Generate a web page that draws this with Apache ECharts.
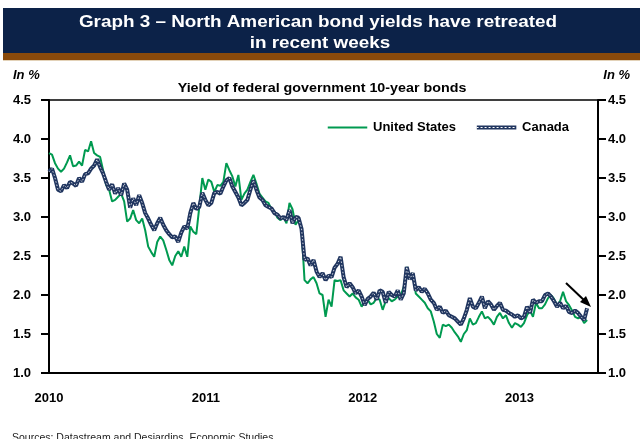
<!DOCTYPE html>
<html><head><meta charset="utf-8">
<script src="https://cdn.jsdelivr.net/npm/echarts@6/dist/echarts.min.js"></script>
<style>html,body{margin:0;padding:0;background:#fff;overflow:hidden}#c{width:640px;height:439px}</style>
</head><body><div id="c"></div>
<script>
// Weekly observations starting on the first week of 2010 (x = decimal year)
const firstYear = 2010;
const daysPerWeek = 7;
const yearLabels = [2010, 2011, 2012, 2013];
const xMin = 2010, xMax = 2013.5;
const yMin = 1.0, yMax = 4.5, yStep = 0.5;

const usYield = [
3.82,3.80,3.69,3.62,3.58,3.62,3.70,3.79,3.65,3.66,
3.71,3.66,3.86,3.84,3.97,3.82,3.79,3.77,3.60,3.41,
3.35,3.20,3.22,3.26,3.30,3.20,2.94,2.98,3.09,2.96,
2.92,2.98,2.83,2.62,2.55,2.49,2.68,2.75,2.70,2.58,
2.45,2.38,2.50,2.56,2.49,2.62,2.49,2.88,2.81,2.78,
3.13,3.50,3.35,3.48,3.45,3.32,3.41,3.40,3.45,3.69,
3.60,3.52,3.39,3.54,3.22,3.30,3.35,3.45,3.54,3.43,
3.30,3.25,3.20,3.18,3.10,3.07,2.99,2.96,3.00,2.92,
3.18,3.10,2.90,2.96,2.85,2.19,2.15,2.20,2.23,2.15,
2.02,2.00,1.72,1.94,1.85,2.19,2.18,2.19,2.06,2.02,
1.98,2.02,1.97,1.94,1.85,1.92,1.94,1.88,1.90,1.96,
1.94,1.81,1.92,1.96,1.92,1.94,1.98,2.00,2.10,2.36,
2.20,2.28,2.02,1.98,1.94,1.90,1.83,1.79,1.66,1.50,
1.45,1.62,1.60,1.62,1.58,1.52,1.47,1.40,1.50,1.55,
1.70,1.62,1.64,1.72,1.79,1.70,1.72,1.68,1.62,1.72,
1.77,1.70,1.74,1.64,1.58,1.64,1.62,1.59,1.64,1.74,
1.80,1.72,1.90,1.83,1.83,1.88,1.96,2.00,1.95,1.87,
1.92,2.04,1.92,1.87,1.80,1.72,1.70,1.72,1.64,1.68
];

const canadaYield = [
3.58,3.62,3.50,3.35,3.33,3.41,3.37,3.45,3.43,3.40,
3.50,3.45,3.55,3.56,3.62,3.66,3.74,3.64,3.56,3.45,
3.35,3.42,3.30,3.37,3.28,3.43,3.35,3.12,3.24,3.15,
3.28,3.18,3.05,2.98,2.90,2.83,2.92,2.99,2.90,2.83,
2.78,2.74,2.75,2.68,2.80,2.88,2.85,3.05,3.18,3.10,
3.13,3.31,3.22,3.15,3.18,3.31,3.32,3.30,3.39,3.47,
3.50,3.39,3.32,3.25,3.15,3.18,3.22,3.35,3.47,3.35,
3.25,3.22,3.15,3.13,3.11,3.05,3.03,2.98,3.00,2.96,
3.09,2.92,3.00,2.99,2.85,2.45,2.47,2.38,2.45,2.30,
2.23,2.28,2.19,2.25,2.23,2.35,2.40,2.49,2.23,2.10,
2.15,2.10,2.02,2.06,1.98,1.87,1.95,1.98,2.03,1.94,
2.06,2.04,1.90,2.04,2.00,1.98,2.06,1.94,2.02,2.36,
2.20,2.28,2.06,2.10,2.04,2.08,2.02,1.94,1.90,1.81,
1.85,1.77,1.80,1.74,1.72,1.70,1.66,1.62,1.70,1.81,
1.96,1.85,1.83,1.90,1.98,1.83,1.92,1.88,1.81,1.86,
1.90,1.81,1.80,1.77,1.75,1.72,1.74,1.70,1.72,1.85,
1.77,1.94,1.90,1.92,1.92,2.00,2.02,1.98,1.92,1.85,
1.90,1.83,1.86,1.78,1.77,1.80,1.77,1.72,1.68,1.83
];

const US_COLOR = '#009a50';
const CA_COLOR = '#20355f';
const FONT = '"Liberation Sans", Arial, sans-serif';

function weekYear(k) { return firstYear + (k * daysPerWeek) / 365.25; }
function toPairs(arr) { return arr.map((v, k) => [weekYear(k), v]); }

const usIcon = 'image://data:image/svg+xml;charset=utf-8,' + encodeURIComponent(
  "<svg xmlns='http://www.w3.org/2000/svg' width='40' height='10'><rect x='0' y='4' width='40' height='2' fill='" + US_COLOR + "'/></svg>");
const caIcon = 'image://data:image/svg+xml;charset=utf-8,' + encodeURIComponent(
  "<svg xmlns='http://www.w3.org/2000/svg' width='40' height='10'><rect x='0' y='3' width='40' height='4' fill='" + CA_COLOR + "'/><line x1='0' y1='5' x2='40' y2='5' stroke='#ffffff' stroke-width='1.2' stroke-dasharray='2 2'/></svg>");

const chart = echarts.init(document.getElementById('c'), null, { renderer: 'canvas' });

const yLabel = { color: '#000', fontFamily: FONT, fontWeight: 'bold', fontSize: 13, formatter: v => v.toFixed(1) };
function yAxis(pos, margin) {
  return {
    type: 'value', position: pos, min: yMin, max: yMax, interval: yStep,
    axisLine: { show: true, lineStyle: { color: '#000', width: 2 } },
    axisTick: { show: true, inside: false, length: 8, lineStyle: { color: '#000', width: 2 } },
    splitLine: { show: false },
    axisLabel: Object.assign({}, yLabel, { margin: margin })
  };
}

chart.setOption({
  animation: false,
  backgroundColor: '#ffffff',
  grid: { left: 49, right: 42, top: 100, bottom: 66, show: true, borderColor: '#000', borderWidth: 1.5, backgroundColor: 'transparent' },
  xAxis: {
    type: 'value', min: xMin, max: xMax, interval: 1,
    axisLine: { show: true, lineStyle: { color: '#000', width: 2 } },
    axisTick: { show: false },
    splitLine: { show: false },
    axisLabel: {
      formatter: v => (yearLabels.indexOf(v) >= 0 ? String(v) : ''),
      color: '#000', fontFamily: FONT, fontWeight: 'bold', fontSize: 13, margin: 19,
      showMaxLabel: false
    }
  },
  yAxis: [ yAxis('left', 18), yAxis('right', 10) ],
  legend: {
    left: 322, top: 116, itemWidth: 41, itemHeight: 10, itemGap: 20,
    textStyle: { color: '#000', fontFamily: FONT, fontWeight: 'bold', fontSize: 13 },
    data: [ { name: 'United States', icon: usIcon }, { name: 'Canada', icon: caIcon } ],
    selectedMode: false
  },
  series: [
    { name: 'United States', type: 'line', data: toPairs(usYield), showSymbol: false, symbol: 'none',
      lineStyle: { color: US_COLOR, width: 2 }, itemStyle: { color: US_COLOR }, z: 2 },
    { name: 'Canada', type: 'line', data: toPairs(canadaYield), showSymbol: false, symbol: 'none',
      lineStyle: { color: CA_COLOR, width: 4 }, itemStyle: { color: CA_COLOR }, z: 3 },
    { name: 'Canada pattern', type: 'line', data: toPairs(canadaYield), showSymbol: false, symbol: 'none',
      lineStyle: { color: '#ffffff', width: 1, type: [1.5, 2], opacity: 0.8 }, z: 4 }
  ],
  graphic: [
    { type: 'rect', shape: { x: 3, y: 8, width: 640, height: 45 }, style: { fill: '#0c2248' }, silent: true },
    { type: 'rect', shape: { x: 3, y: 53, width: 640, height: 7 }, style: { fill: '#8a4a0b' }, silent: true },
    { type: 'rect', shape: { x: 3, y: 60, width: 640, height: 1 }, style: { fill: '#e3d2b8' }, silent: true },
    { type: 'text', x: 318, y: 22, scaleX: 1.11, style: { text: 'Graph 3 – North American bond yields have retreated', fill: '#ffffff',
      font: 'bold 17px ' + FONT, align: 'center', verticalAlign: 'middle' } },
    { type: 'text', x: 320, y: 43, scaleX: 1.11, style: { text: 'in recent weeks', fill: '#ffffff',
      font: 'bold 17px ' + FONT, align: 'center', verticalAlign: 'middle' } },
    { type: 'text', x: 13, y: 75, style: { text: 'In %', fill: '#000', font: 'italic bold 13px ' + FONT, align: 'left', verticalAlign: 'middle' } },
    { type: 'text', x: 630, y: 75, style: { text: 'In %', fill: '#000', font: 'italic bold 13px ' + FONT, align: 'right', verticalAlign: 'middle' } },
    { type: 'text', x: 322, y: 88, scaleX: 1.1, style: { text: 'Yield of federal government 10-year bonds', fill: '#000', font: 'bold 13px ' + FONT, align: 'center', verticalAlign: 'middle' } },
    { type: 'text', x: 12, y: 433, style: { text: 'Sources: Datastream and Desjardins, Economic Studies', fill: '#222', font: '10.5px ' + FONT, align: 'left', verticalAlign: 'top' } },
    { type: 'line', shape: { x1: 566, y1: 283, x2: 586, y2: 302 }, style: { stroke: '#000', lineWidth: 2 }, z: 10 },
    { type: 'polygon', shape: { points: [[591, 307], [580, 302], [586, 296]] }, style: { fill: '#000' }, z: 10 }
  ]
});
</script>
</body></html>
